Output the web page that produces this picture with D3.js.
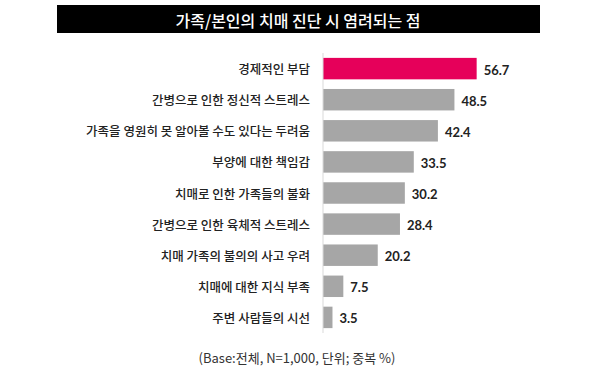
<!DOCTYPE html>
<html>
<head>
<meta charset="utf-8">
<script src="https://cdn.jsdelivr.net/npm/d3@7"></script>
<style>
  body { margin: 0; background: #fff; }
</style>
</head>
<body>
<div id="chart"></div>
<script>
// data
const categories = [
    "경제적인 부담",
    "간병으로 인한 정신적 스트레스",
    "가족을 영원히 못 알아볼 수도 있다는 두려움",
    "부양에 대한 책임감",
    "치매로 인한 가족들의 불화",
    "간병으로 인한 육체적 스트레스",
    "치매 가족의 불의의 사고 우려",
    "치매에 대한 지식 부족",
    "주변 사람들의 시선"
];
const values = [56.7, 48.5, 42.4, 33.5, 30.2, 28.4, 20.2, 7.5, 3.5];
const valueLabels = ["56.7", "48.5", "42.4", "33.5", "30.2", "28.4", "20.2", "7.5", "3.5"];

const title = "가족/본인의 치매 진단 시 염려되는 점";
const note = "(Base:전체, N=1,000, 단위; 중복 %)";

const width = 600,
    height = 378;

const svg = d3.select("#chart")
    .append("svg")
    .attr("width", width)
    .attr("height", height);

// title box
svg.append("rect")
    .attr("x", 57)
    .attr("y", 5)
    .attr("width", 483)
    .attr("height", 28)
    .attr("fill", "#000");

svg.append("text")
    .attr("x", 298)
    .attr("y", 19.5)
    .attr("text-anchor", "middle")
    .attr("dominant-baseline", "central")
    .attr("fill", "#fff")
    .style("font-family", "'Noto Sans CJK KR', sans-serif")
    .style("font-size", "16px")
    .style("font-weight", 500)
    .text(title);

// scales
const x = d3.scaleLinear()
    .domain([0, 60])
    .range([323, 485.6]);

const y = d3.scaleBand()
    .domain(categories)
    .range([53, 333])
    .paddingInner(0.31)
    .paddingOuter(0.157);

// bars
svg.selectAll("rect.bar")
    .data(values)
    .join("rect")
    .attr("class", "bar")
    .attr("x", x(0))
    .attr("y", (d, i) => y(categories[i]))
    .attr("width", d => x(d) - x(0))
    .attr("height", y.bandwidth())
    .attr("fill", (d, i) => i === 0 ? "#E6005A" : "#A6A6A6");

// axis line
svg.append("line")
    .attr("x1", x(0))
    .attr("x2", x(0))
    .attr("y1", 53)
    .attr("y2", 333)
    .attr("stroke", "#D9D9D9")
    .attr("stroke-width", 1);

// category labels
svg.selectAll("text.cat")
    .data(categories)
    .join("text")
    .attr("class", "cat")
    .attr("x", 310)
    .attr("y", d => y(d) + y.bandwidth() / 2)
    .attr("text-anchor", "end")
    .attr("dominant-baseline", "central")
    .attr("fill", "#222")
    .style("font-family", "'Noto Sans CJK KR', sans-serif")
    .style("font-size", "12.5px")
    .style("font-weight", 500)
    .text(d => d);

// value labels
svg.selectAll("text.val")
    .data(values)
    .join("text")
    .attr("class", "val")
    .attr("x", d => x(d) + 7)
    .attr("y", (d, i) => y(categories[i]) + y.bandwidth() / 2 + 1)
    .attr("dominant-baseline", "central")
    .attr("fill", "#222")
    .style("font-family", "Lato, sans-serif")
    .style("font-weight", "bold")
    .style("font-size", "13px")
    .text((d, i) => valueLabels[i]);

// footnote
svg.append("text")
    .attr("x", 297)
    .attr("y", 357)
    .attr("text-anchor", "middle")
    .attr("dominant-baseline", "central")
    .attr("fill", "#333")
    .style("font-family", "'Noto Sans CJK KR', sans-serif")
    .style("font-size", "13px")
    .text(note);
</script>
</body>
</html>
